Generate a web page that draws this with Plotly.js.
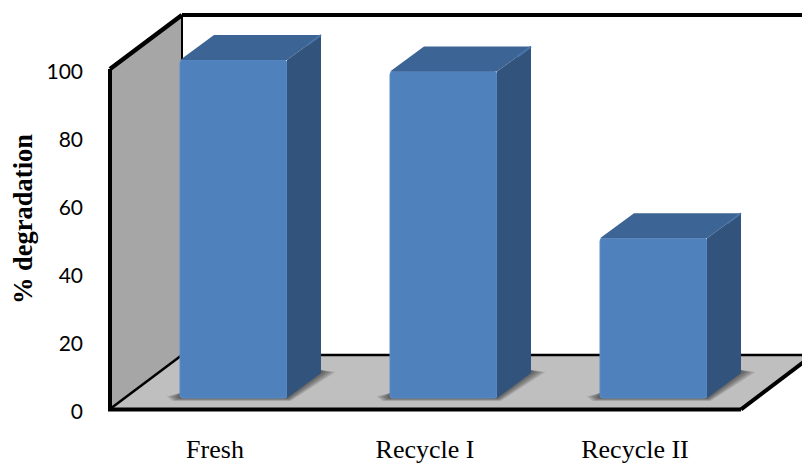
<!DOCTYPE html>
<html>
<head>
<meta charset="utf-8">
<script src="https://cdn.plot.ly/plotly-3.0.1.min.js"></script>
<style>html,body{margin:0;padding:0;background:#fff}#chart{width:802px;height:463px}</style>
</head>
<body>
<div id="chart"></div>
<script>
// Photocatalyst reuse: degradation after each cycle
const categories = ['Fresh', 'Recycle I', 'Recycle II'];
const degradation = [99.4, 96, 47];
const yTicks = [0, 20, 40, 60, 80, 100];

// Axis scale: plot area pixels per data unit
const W = 802, H = 463;
const M = {l: 100, r: 0, t: 12, b: 37};
const pxX = 1 / 210, pxY = 1 / 3.4;
const xRange = [-0.5 - 10 * pxX, -0.5 + (W - 110) * pxX];
const yRange = [-17 * pxY, 397 * pxY];

// Oblique projection of the chart box and the bars
const boxDX = 72 * pxX, boxDY = 54 * pxY;
const barDX = 34 * pxX, barDY = 25 * pxY;
const barShift = 18.5 * pxX, barLift = 11 * pxY, barWidth = 107 * pxX;
const xL = -0.5, xR = 2.505, yTop = 100;

const poly = pts => 'M' + pts.map(p => p[0] + ',' + p[1]).join('L') + 'Z';
const seg = (a, b, w, c) => ({type: 'line', layer: 'below', xref: 'x', yref: 'y',
  x0: a[0], y0: a[1], x1: b[0], y1: b[1], line: {color: c || '#000', width: w}});
const fill = (pts, c) => ({type: 'path', layer: 'below', xref: 'x', yref: 'y',
  path: poly(pts), fillcolor: c, line: {width: 0}});

// Walls, floor and frame lines
const shapes = [
  fill([[xL, 0], [xL, yTop], [xL + boxDX, yTop + boxDY], [xL + boxDX, boxDY]], '#a6a6a6'),
  fill([[xL, 0], [xR, 0], [xR + boxDX, boxDY], [xL + boxDX, boxDY]], '#bfbfbf'),
  seg([xL + boxDX, boxDY], [xR + boxDX, boxDY], 2.5),
  seg([xL + boxDX, boxDY], [xL + boxDX, yTop + boxDY], 2),
  seg([xL, 0], [xL + boxDX, boxDY], 2.5),
  seg([xL + boxDX, yTop + boxDY], [xR + 2 * boxDX, yTop + boxDY], 4),
  seg([xL, yTop], [xL + boxDX, yTop + boxDY], 4.5),
  seg([xL, 0], [xL, yTop], 4),
  seg([xL - 2 * pxX, -0.4 * pxY], [xR, -0.4 * pxY], 4),
  seg([xR, -0.4 * pxY], [xR + boxDX, boxDY], 4)
];

// Soft contact shadow on the floor, one stack of translucent layers per bar
categories.forEach((c, i) => {
  const l = i + barShift - barWidth / 2, r = i + barShift + barWidth / 2;
  [1, 2, 3, 4, 5, 6].forEach(k => {
    const e = 7 - k;
    shapes.push(fill([
      [l - e * 2.2 * pxX, barLift + 1.5 * pxY],
      [l - e * 1.2 * pxX, barLift - e * 0.5 * pxY],
      [r + e * 0.6 * pxX, barLift - e * 0.5 * pxY],
      [r + barDX + e * 2.4 * pxX, barLift + barDY + 1 * pxY],
      [r + barDX, barLift + barDY + 3 * pxY],
      [r, barLift + 5 * pxY],
      [l, barLift + 5 * pxY]
    ], 'rgba(40,40,40,0.14)'));
  });
});

// Top and side faces, projected from each bar's value
const topX = [], topY = [], sideX = [], sideY = [], edgeX = [], edgeY = [];
categories.forEach((c, i) => {
  const l = i + barShift - barWidth / 2, r = i + barShift + barWidth / 2;
  const b = barLift, t = barLift + degradation[i];
  topX.push(l, r, r + barDX, l + barDX, l, null);
  topY.push(t, t, t + barDY, t + barDY, t, null);
  sideX.push(r, r + barDX, r + barDX, r, r, null);
  sideY.push(b, b + barDY, t + barDY, t, b, null);
  edgeX.push(r + 0.6 * barDX, r + barDX, null);
  edgeY.push(t + 0.6 * barDY, t + barDY, null);
});

const traces = [
  {type: 'bar', x: categories.map((c, i) => i + barShift), y: degradation,
   base: barLift, width: barWidth, hoverinfo: 'skip',
   marker: {color: '#4f81bd', cornerradius: 3, line: {color: '#5a8cc6', width: 1}}},
  {type: 'scatter', mode: 'lines', x: sideX, y: sideY, fill: 'toself', fillcolor: '#32547c',
   line: {width: 0, color: '#32547c'}, hoverinfo: 'skip'},
  {type: 'scatter', mode: 'lines', x: topX, y: topY, fill: 'toself', fillcolor: '#3c6494',
   line: {width: 0, color: '#3c6494'}, hoverinfo: 'skip'},
  {type: 'scatter', mode: 'lines', x: edgeX, y: edgeY,
   line: {width: 2, color: '#4a75a8'}, hoverinfo: 'skip'}
];

const layout = {
  width: W, height: H, showlegend: false, margin: M,
  paper_bgcolor: '#fff', plot_bgcolor: 'rgba(0,0,0,0)',
  barmode: 'overlay', shapes: shapes,
  xaxis: {range: xRange, tickmode: 'array', tickvals: categories.map((c, i) => i), ticktext: categories,
    showgrid: false, zeroline: false, showline: false, ticks: '', ticklabelstandoff: 5,
    tickangle: 0, tickfont: {family: '"Liberation Serif", serif', size: 26, color: '#000'}, fixedrange: true},
  yaxis: {range: yRange, tickmode: 'array', tickvals: yTicks,
    showgrid: false, zeroline: false, showline: false, ticks: '', ticklabelstandoff: 16, ticklabelshift: 3,
    tickfont: {family: 'Lato, sans-serif', size: 21, color: '#000'}, fixedrange: true,
    title: {text: '<b>% degradation</b>', standoff: 6,
      font: {family: '"Liberation Serif", serif', size: 26.5, color: '#000'}}}
};

Plotly.newPlot('chart', traces, layout, {displayModeBar: false, staticPlot: true});
</script>
</body>
</html>
